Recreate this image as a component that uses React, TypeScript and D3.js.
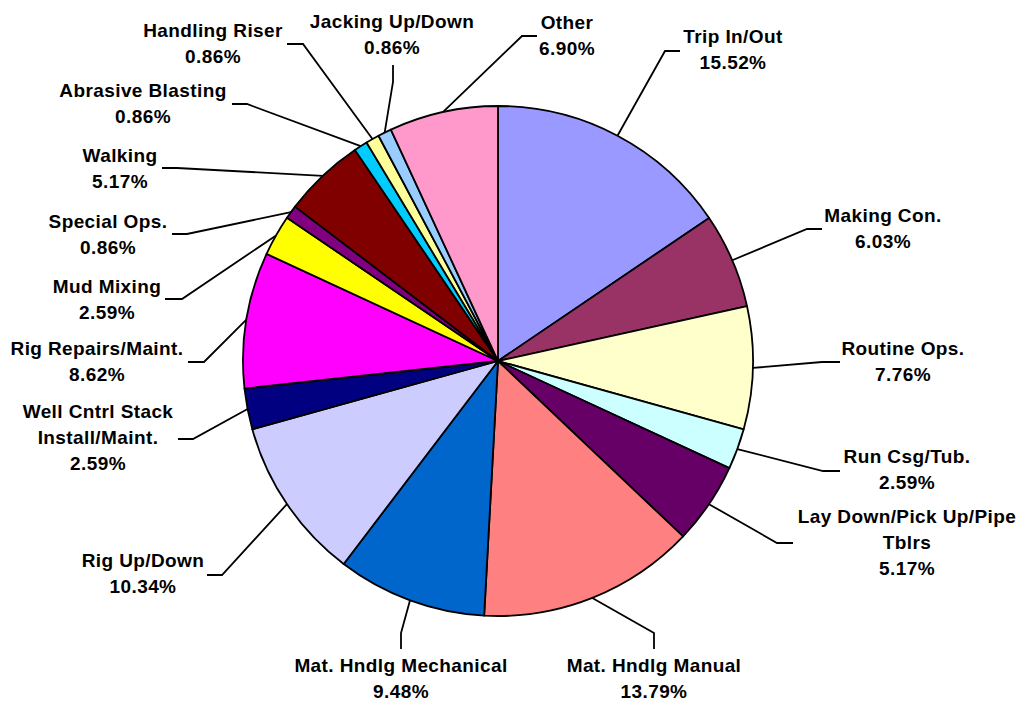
import React from "react";
import * as d3 from "d3";

// activity share of observed tasks, clockwise from 12 o'clock
const categories = [
  "Trip In/Out",
  "Making Con.",
  "Routine Ops.",
  "Run Csg/Tub.",
  "Lay Down/Pick Up/Pipe\nTblrs",
  "Mat. Hndlg Manual",
  "Mat. Hndlg Mechanical",
  "Rig Up/Down",
  "Well Cntrl Stack\nInstall/Maint.",
  "Rig Repairs/Maint.",
  "Mud Mixing",
  "Special Ops.",
  "Walking",
  "Abrasive Blasting",
  "Handling Riser",
  "Jacking Up/Down",
  "Other",
];
const percents = [15.52, 6.03, 7.76, 2.59, 5.17, 13.79, 9.48, 10.34, 2.59, 8.62, 2.59, 0.86, 5.17, 0.86, 0.86, 0.86, 6.9];
const colors = [
  "#9999FF", "#993366", "#FFFFCC", "#CCFFFF", "#660066", "#FF8080", "#0066CC", "#CCCCFF",
  "#000080", "#FF00FF", "#FFFF00", "#800080", "#800000", "#00CCFF", "#FFFF99", "#99CCFF", "#FF99CC",
];

// label placement: text centre x, first baseline y, and the leader stub
// h: horizontal stub at y=s from x=e (elbow) to x=t ; v: vertical stub at x=s from y=e to y=t
const labelLayout: [number, number, string, number, number, number][] = [
  [733, 43, "h", 665, 680, 51],
  [883, 222, "h", 807, 822, 229],
  [903, 355, "h", 822, 840, 362],
  [907, 463, "h", 823, 840, 471],
  [907, 523, "h", 777, 793, 543],
  [654, 672, "v", 633, 649, 654],
  [401, 672, "v", 633, 649, 401],
  [143, 567, "h", 222, 207, 575],
  [98, 418, "h", 193, 178, 439],
  [97, 355, "h", 204, 188, 362],
  [107, 293, "h", 182, 165, 299],
  [108, 228, "h", 187, 172, 234],
  [120, 162, "h", 177, 162, 168],
  [143, 97, "h", 247, 232, 104],
  [213, 37, "h", 303, 287, 44],
  [392, 28, "v", 82, 65, 393],
  [567, 29, "h", 522, 537, 36],
];

const W = 1021;
const H = 702;
const cx = 498;
const cy = 361;
const R = 255;
const lineH = 26;

export default function App() {
  const pie = d3.pie<number>().sort(null).value((d) => d);
  const arcs = pie(percents);
  const arc = d3.arc<d3.PieArcDatum<number>>().innerRadius(0).outerRadius(R);
  const edge = d3.arc<d3.PieArcDatum<number>>().innerRadius(R).outerRadius(R);

  return (
    <svg
      width={W}
      height={H}
      style={{ position: "absolute", left: 0, top: 0, background: "#fff" }}
      fontFamily="'Liberation Sans', Arial, sans-serif"
      fontWeight="bold"
      fontSize={19}
    >
      <g transform={`translate(${cx},${cy})`}>
        {arcs.map((a, i) => (
          <path key={i} d={arc(a) as string} fill={colors[i]} stroke="#000" strokeWidth={1.8} strokeLinejoin="round" />
        ))}
      </g>
      {arcs.map((a, i) => {
        const [px, py] = edge.centroid(a);
        const [tx, ty, kind, e, t, s] = labelLayout[i];
        const pts =
          kind === "h"
            ? [[cx + px, cy + py], [e, s], [t, s]]
            : [[cx + px, cy + py], [s, e], [s, t]];
        const lines = categories[i].split("\n").concat([percents[i].toFixed(2) + "%"]);
        return (
          <g key={i}>
            <polyline points={pts.map((p) => p.join(",")).join(" ")} fill="none" stroke="#000" strokeWidth={1.8} />
            <text x={tx} y={ty} textAnchor="middle" fill="#000" letterSpacing={0.4}>
              {lines.map((l, j) => (
                <tspan key={j} x={tx} y={ty + j * lineH}>
                  {l}
                </tspan>
              ))}
            </text>
          </g>
        );
      })}
    </svg>
  );
}
